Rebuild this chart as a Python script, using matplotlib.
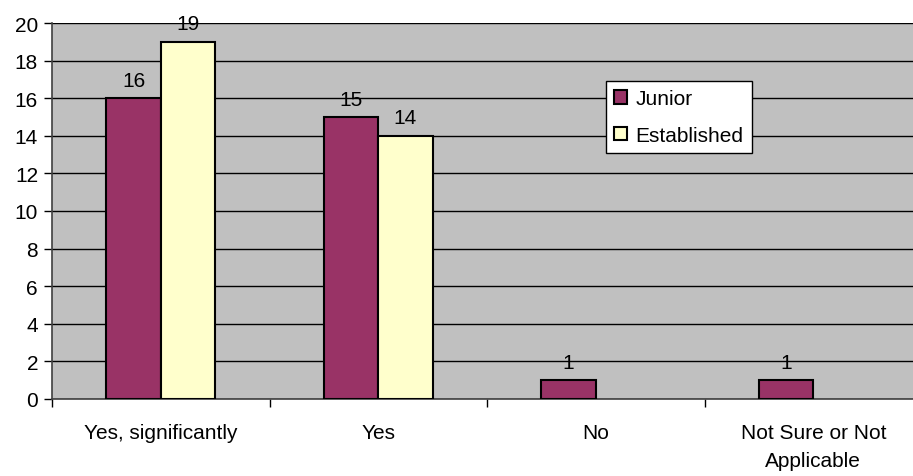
import numpy as np
import matplotlib
matplotlib.use("Agg")
import matplotlib.pyplot as plt

categories = ["Yes, significantly", "Yes", "No", "Not Sure or Not\nApplicable"]
junior = [16, 15, 1, 1]
established = [19, 14, 0, 0]
series_names = ["Junior", "Established"]

plt.rcParams['font.family'] = ['Liberation Sans', 'DejaVu Sans']
fs = 15

fig = plt.figure(figsize=(9.13, 4.77), dpi=100)
# plot area runs a bit past the right edge of the picture, as in the original
ax = fig.add_axes([52 / 913, 1 - 400 / 477, 870 / 913, 376 / 477])
ax.set_facecolor("#C0C0C0")

x = np.arange(len(categories))
w = 0.25
b1 = ax.bar(x - w / 2, junior, w, color="#993366", edgecolor="black", linewidth=1.5, label=series_names[0], zorder=3)
b2 = ax.bar(x + w / 2, established, w, color="#FFFFCC", edgecolor="black", linewidth=1.5, label=series_names[1], zorder=3)

for bars, vals in ((b1, junior), (b2, established)):
    for rect, v in zip(bars, vals):
        if v > 0:
            ax.annotate(str(v), (rect.get_x() + rect.get_width() / 2, v),
                        xytext=(0, 6), textcoords="offset points",
                        ha="center", va="bottom", fontsize=fs)
        else:
            rect.set_visible(False)

ax.set_xlim(-0.5, len(categories) - 0.5)
ax.set_ylim(0, 20)
ax.set_yticks(range(0, 21, 2))
ax.yaxis.grid(True, color="black", linewidth=1.0, zorder=1)
ax.set_axisbelow(True)

ax.set_xticks(x)
ax.set_xticklabels(categories, fontsize=fs, linespacing=1.6)
ax.tick_params(axis="x", length=0, pad=17)
ax.set_xticks(np.arange(-0.5, len(categories), 1), minor=True)
ax.tick_params(axis="x", which="minor", length=6, width=1, direction="out")
ax.tick_params(axis="y", labelsize=fs, length=6, width=1, direction="out", pad=4)

for s in ("top", "right"):
    ax.spines[s].set_visible(False)
for s in ("left", "bottom"):
    ax.spines[s].set_color("#404040")
    ax.spines[s].set_linewidth(1.2)

leg = ax.legend(loc="upper left", bbox_to_anchor=((606 - 52) / 870, (400 - 82) / 376),
                fontsize=fs, frameon=True, fancybox=False, edgecolor="black",
                handlelength=0.6, handleheight=0.6, handletextpad=0.4,
                borderpad=0.4, labelspacing=0.85, borderaxespad=0)
leg.get_frame().set_linewidth(1.0)
leg.get_frame().set_facecolor("white")
leg.get_frame().set_alpha(1)

fig.savefig("out.png", dpi=100)
